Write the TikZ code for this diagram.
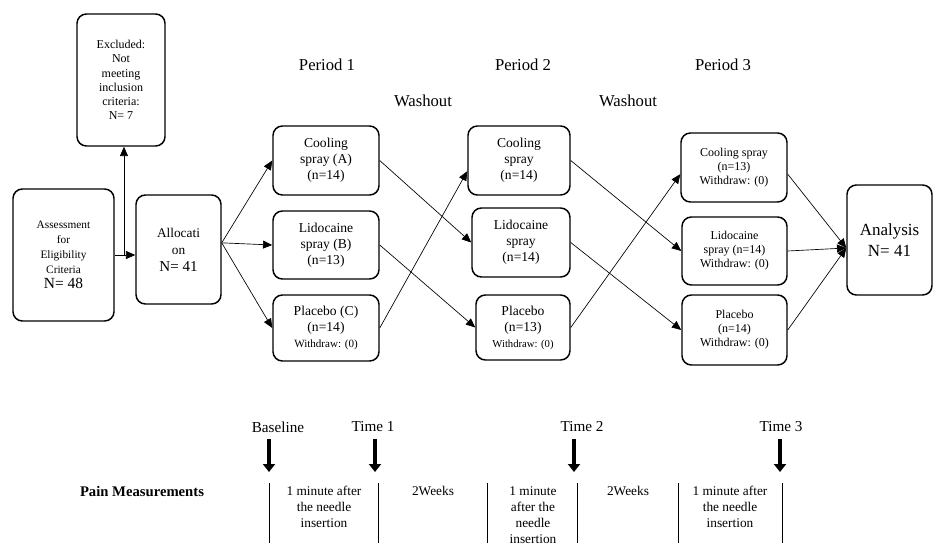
\documentclass[tikz,border=0pt]{standalone}
\usepackage{fontspec}
\setmainfont{Liberation Serif}
\usetikzlibrary{arrows.meta,calc}

\newcommand{\boxfont}{\fontsize{10.2}{12}\selectfont}
\newcommand{\smallfont}{\fontsize{9}{10.6}\selectfont}
\newcommand{\tinyfont}{\fontsize{8.3}{10}\selectfont}
\newcommand{\headfont}{\fontsize{12.5}{15}\selectfont}
\newcommand{\timefont}{\fontsize{11.4}{14}\selectfont}
\newcommand{\notefont}{\fontsize{10}{12}\selectfont}

\begin{document}
\begin{tikzpicture}[x=0.75pt,y=-0.75pt]
\tikzstyle{box}=[draw,line width=1.1pt,rounded corners=7pt,align=center,inner sep=1pt];
\tikzstyle{arr}=[-{Triangle[length=7pt,width=6pt]},line width=0.5pt];
\tikzstyle{bigarr}=[-{Triangle[length=6pt,width=9pt]},line width=3pt];
\tikzstyle{lbl}=[align=center,inner sep=0pt];
\useasboundingbox (0,0) rectangle (935,543);

% headings
\node[lbl,font=\headfont] (per1) at (327,65) {Period 1};
\node[lbl,font=\headfont] (per2) at (523,65) {Period 2};
\node[lbl,font=\headfont] (per3) at (723,65) {Period 3};
\node[lbl,font=\headfont] (wash1) at (423,101) {Washout};
\node[lbl,font=\headfont] (wash2) at (628,101) {Washout};

% enrolment
\node[box,minimum width=66pt,minimum height=99pt,font=\smallfont] (excl) at (121,80)
  {Excluded:\\Not\\meeting\\inclusion\\criteria:\\N= 7};
\node[box,minimum width=75.75pt,minimum height=99pt,font=\fontsize{8.5}{11.25}\selectfont] (assess) at (63.5,255)
  {Assessment\\for\\Eligibility\\Criteria\\{\fontsize{11.6}{13}\selectfont N= 48}};
\node[box,minimum width=63.75pt,minimum height=81.75pt,font=\fontsize{10}{12.75}\selectfont] (alloc) at (178.5,249.5)
  {Allocati\\on\\{\fontsize{11.3}{13}\selectfont N= 41}};

% period 1
\node[box,minimum width=79.5pt,minimum height=51.75pt,font=\boxfont] (cA) at (326,160.5)
  {Cooling\\spray (A)\\(n=14)};
\node[box,minimum width=79.5pt,minimum height=51pt,font=\boxfont] (lB) at (326,245)
  {Lidocaine\\spray (B)\\(n=13)};
\node[box,minimum width=79.5pt,minimum height=49.5pt,font=\boxfont] (pC) at (326,328)
  {Placebo (C)\\(n=14)\\{\tinyfont Withdraw: (0)}};

% period 2
\node[box,minimum width=76.5pt,minimum height=51.75pt,font=\boxfont] (c2) at (519,160.5)
  {Cooling\\spray\\(n=14)};
\node[box,minimum width=73.5pt,minimum height=51.75pt,font=\boxfont] (l2) at (521,242.5)
  {Lidocaine\\spray\\(n=14)};
\node[box,minimum width=70.5pt,minimum height=48.75pt,font=\boxfont] (p2) at (523,327.5)
  {Placebo\\(n=13)\\{\fontsize{8}{10}\selectfont Withdraw: (0)}};

% period 3
\node[box,minimum width=79.5pt,minimum height=51.75pt,font=\fontsize{9}{10.5}\selectfont] (c3) at (734,167.5)
  {Cooling spray\\(n=13)\\Withdraw: (0)};
\node[box,minimum width=78.75pt,minimum height=51pt,font=\fontsize{9}{10.5}\selectfont] (l3) at (734.5,251)
  {Lidocaine\\spray (n=14)\\Withdraw: (0)};
\node[box,minimum width=78.75pt,minimum height=52.5pt,font=\fontsize{9}{10.5}\selectfont] (p3) at (734.5,330)
  {Placebo\\(n=14)\\Withdraw: (0)};

\node[box,minimum width=63.75pt,minimum height=82.5pt,font=\fontsize{12.75}{16}\selectfont] (ana) at (889.5,240)
  {Analysis\\N= 41};

% connectors
\coordinate (br) at ($(assess.east)!0.45!(assess.east -| alloc.west)$);
\draw[arr] (assess.east) -- (assess.east -| alloc.west);
\draw[arr] (br) -- (br |- excl.south);
\coordinate (fan) at ([yshift=5pt]alloc.east);
\draw[arr] (fan) -- (cA.west);
\draw[arr] (fan) -- (lB.west);
\draw[arr] (fan) -- (pC.west);
\draw[arr] (cA.east) -- (l2.west);
\draw[arr] (lB.east) -- (p2.west);
\draw[arr] (pC.east) -- ([yshift=-8pt]c2.west);
\draw[arr] (c2.east) -- (l3.west);
\draw[arr] (l2.east) -- (p3.west);
\draw[arr] (p2.east) -- ([yshift=-5pt]c3.west);
\coordinate (anaIn) at ([yshift=-6pt]ana.west);
\draw[arr] ([yshift=-5pt]c3.east) -- (anaIn);
\draw[arr] (l3.east) -- (anaIn);
\draw[arr] (p3.east) -- (anaIn);

% time line
\node[lbl,font=\timefont] (base) at (278,427) {Baseline};
\node[lbl,font=\timefont] (time1) at (373,427) {Time 1};
\node[lbl,font=\timefont] (time2) at (582,427) {Time 2};
\node[lbl,font=\timefont] (time3) at (781,427) {Time 3};
\foreach \x/\n in {269/t0,375/t1,574/t2,780/t3}{
  \coordinate (\n top) at (\x,439);
  \coordinate (\n bot) at (\x,472);
  \draw[bigarr] (\n top) -- (\n bot);
}

\node[lbl,font=\fontsize{11}{13}\selectfont\bfseries] (pain) at (142,491) {Pain Measurements};
\foreach \x/\n in {269/v0,378/v1,487/v2,577/v3,678/v4,782/v5}{
  \coordinate (\n top) at (\x,483);
  \coordinate (\n bot) at (\x,543);
  \draw[line width=0.6pt] (\n top) -- (\n bot);
}
\node[lbl,anchor=north,font=\notefont] (m1) at (324,486) {1 minute after\\the needle\\insertion};
\node[lbl,anchor=north,font=\notefont] (w1) at (433,486) {2Weeks};
\node[lbl,anchor=north,font=\notefont] (m2) at (533,486) {1 minute\\after the\\needle\\insertion};
\node[lbl,anchor=north,font=\notefont] (w2) at (628,486) {2Weeks};
\node[lbl,anchor=north,font=\notefont] (m3) at (730,486) {1 minute after\\the needle\\insertion};
\end{tikzpicture}
\end{document}
